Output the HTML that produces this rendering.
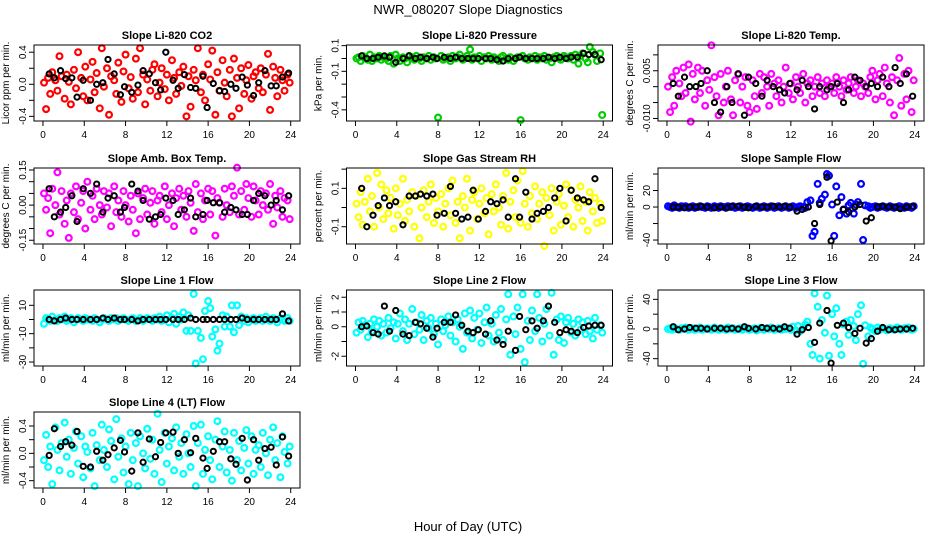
<!DOCTYPE html>
<html><head><meta charset="utf-8"><style>
html,body{margin:0;padding:0;background:#fff;}
svg{display:block;font-family:"Liberation Sans",sans-serif;}
</style></head><body>
<svg id="chart" width="936" height="540" viewBox="0 0 936 540" xmlns="http://www.w3.org/2000/svg">
<rect x="0" y="0" width="936" height="540" fill="#fff"/>
<text x="468" y="14" text-anchor="middle" font-size="13">NWR_080207  Slope Diagnostics</text>
<text x="468" y="531" text-anchor="middle" font-size="13">Hour of Day (UTC)</text>
<g id="panels"></g>
</svg>
<script>
const hours=[0.1,0.3,0.5,0.7,0.9,1.2,1.4,1.6,1.8,2.1,2.3,2.5,2.7,3.0,3.2,3.4,3.7,3.9,4.1,4.3,4.6,4.8,5.0,5.2,5.5,5.7,5.9,6.2,6.4,6.6,6.9,7.1,7.3,7.6,7.8,8.0,8.3,8.5,8.7,9.0,9.2,9.4,9.7,9.9,10.1,10.4,10.6,10.8,11.1,11.3,11.5,11.8,12.0,12.2,12.5,12.7,12.9,13.2,13.4,13.6,13.9,14.1,14.3,14.6,14.8,15.0,15.3,15.5,15.7,16.0,16.2,16.4,16.7,16.9,17.1,17.4,17.6,17.8,18.1,18.3,18.5,18.8,19.0,19.2,19.5,19.7,19.9,20.2,20.4,20.6,20.9,21.1,21.3,21.6,21.8,22.0,22.3,22.5,22.7,23.0,23.2,23.4,23.7,23.9];
const blackHours=[0.6,1.1,1.7,2.2,2.8,3.3,3.9,4.6,5.2,5.8,6.3,6.9,7.5,7.9,8.6,9.2,9.7,10.3,10.9,11.4,11.9,12.6,13.1,13.7,14.3,14.8,15.5,15.9,16.5,17.1,17.6,18.2,18.7,19.3,19.8,20.4,20.9,21.5,22.1,22.6,23.2,23.8];
const xTicks=[0,4,8,12,16,20,24];

const co2Y=[0.02,-0.31,0.08,-0.12,0.15,0.05,-0.08,0.35,0.1,-0.18,0.12,0.03,-0.25,0.18,-0.05,0.4,0.08,-0.15,0.22,-0.2,0.06,0.28,-0.1,0.14,-0.3,0.45,-0.03,0.2,-0.38,0.1,0.05,-0.12,0.27,-0.22,0.16,0.37,-0.05,0.09,-0.18,0.32,-0.1,0.45,0.12,-0.25,0.06,-0.08,0.18,0.25,-0.15,0.02,0.2,-0.06,0.12,-0.2,0.3,0.08,-0.12,0.15,-0.02,0.22,-0.4,0.1,-0.28,0.18,0.05,0.45,-0.1,0.12,-0.2,0.25,0.06,0.42,-0.38,0.15,-0.08,0.3,0.02,-0.15,0.18,-0.4,0.32,0.08,-0.3,0.2,-0.12,0.05,0.24,-0.18,0.1,0.15,-0.05,0.2,-0.1,0.12,0.38,-0.32,0.22,0.08,-0.15,0.18,0.05,-0.08,0.12,0.02];
const co2Black=[0.13,0.08,0.17,0.07,0.08,-0.16,0.05,-0.2,0.0,0.02,0.31,0.13,-0.13,-0.03,-0.1,-0.01,0.17,0.13,0.02,-0.07,0.4,0.05,-0.05,0.12,-0.04,-0.05,0.1,-0.29,0.01,-0.08,-0.09,0.0,-0.05,0.09,-0.01,-0.14,0.02,0.17,-0.02,-0.02,0.09,0.14];
const presY=[0.0,0.01,-0.02,0.02,0.0,-0.01,0.03,-0.02,0.01,0.0,0.02,-0.01,0.01,0.0,-0.02,0.02,-0.04,0.03,0.0,-0.02,0.01,0.0,-0.03,0.02,0.01,-0.01,0.02,0.0,-0.02,0.01,0.0,0.02,-0.01,0.01,0.0,-0.46,0.02,-0.01,0.0,0.01,-0.02,0.02,0.0,0.01,0.03,-0.01,0.0,0.02,0.07,-0.01,0.01,0.0,0.02,-0.02,0.01,0.0,0.02,-0.01,0.01,0.0,-0.02,0.01,0.02,0.0,-0.01,0.01,-0.02,0.0,0.01,-0.48,0.02,0.0,-0.01,0.01,0.0,0.02,-0.01,0.01,0.0,0.02,-0.01,0.0,-0.03,0.01,0.02,0.0,-0.01,0.02,0.01,0.0,0.02,-0.01,0.03,-0.04,0.02,0.04,0.0,-0.03,0.09,0.05,0.03,-0.02,0.04,-0.44];
const presBlack=[0.02,0.0,0.0,0.01,0.02,0.01,-0.03,0.0,0.02,0.0,0.01,0.0,0.01,0.0,0.01,0.0,0.01,0.0,0.0,0.0,0.0,0.0,0.0,-0.01,-0.02,0.0,0.0,0.01,0.0,0.0,0.0,0.0,0.01,0.0,0.01,0.0,0.01,0.01,0.04,0.03,0.03,-0.01];
const tempY=[0.0,-0.008,0.003,-0.006,0.005,0.001,-0.003,0.006,-0.002,0.007,-0.011,0.004,-0.004,0.006,-0.002,0.005,-0.006,0.002,-0.001,0.013,0.003,-0.003,-0.009,0.004,-0.005,0.0,0.005,-0.004,-0.009,0.002,0.004,-0.005,0.0,0.003,-0.006,-0.008,0.002,-0.003,-0.007,0.004,-0.002,0.003,0.0,-0.006,0.004,0.001,-0.003,0.002,-0.005,0.0,0.006,-0.002,0.001,-0.004,0.003,0.0,-0.002,0.004,-0.005,0.001,0.002,-0.003,0.0,0.003,-0.002,0.001,-0.003,0.002,0.0,0.001,-0.002,0.003,0.0,-0.003,0.002,-0.001,0.001,0.003,-0.002,0.0,0.002,-0.003,0.001,0.0,-0.002,0.003,0.005,-0.004,0.002,0.004,-0.003,0.006,0.001,-0.005,0.003,-0.009,0.002,0.009,-0.006,0.004,-0.004,0.005,-0.008,0.002];
const tempBlack=[0.001,-0.003,0.003,0.0,0.0,0.001,0.005,-0.005,-0.008,0.0,-0.005,0.004,-0.009,0.003,0.001,-0.003,0.002,0.0,-0.001,-0.002,0.001,-0.001,0.002,0.0,-0.007,0.0,-0.001,0.0,0.001,-0.005,-0.001,0.003,0.002,0.0,0.001,0.0,0.003,0.0,0.006,0.001,0.004,-0.003];
const ambY=[0.05,-0.02,0.03,-0.12,0.07,0.0,0.14,-0.04,0.06,-0.08,0.02,-0.14,0.05,-0.03,0.08,-0.06,0.01,0.06,-0.1,0.1,-0.02,0.04,-0.06,0.07,0.0,-0.04,0.06,-0.01,0.05,-0.09,0.08,-0.03,0.02,-0.05,0.06,0.0,-0.07,0.04,-0.02,-0.12,0.05,-0.06,0.03,0.07,-0.04,0.01,0.06,-0.08,0.02,0.04,-0.03,0.08,-0.06,0.0,0.05,-0.09,0.03,0.07,-0.02,0.04,-0.05,0.06,0.01,-0.11,0.09,-0.03,0.05,-0.06,0.02,0.07,-0.04,0.06,-0.13,0.03,0.01,-0.05,0.07,0.0,-0.03,0.08,0.04,0.16,-0.04,0.06,-0.02,0.09,0.03,-0.05,0.08,0.02,-0.04,0.06,0.0,0.05,-0.02,0.09,-0.08,0.04,-0.01,0.06,-0.05,0.03,0.02,-0.06];
const ambBlack=[0.07,-0.05,-0.03,-0.01,0.04,-0.07,0.07,0.05,0.09,-0.03,0.03,0.04,-0.03,-0.01,0.09,0.06,0.02,-0.06,-0.05,-0.04,0.03,0.02,-0.04,-0.02,0.03,-0.05,-0.04,0.02,0.01,0.01,-0.03,-0.01,-0.02,-0.04,-0.04,0.02,0.05,0.04,0.0,0.02,-0.02,0.04];
const rhY=[0.02,-0.05,0.08,-0.09,0.03,0.15,-0.02,0.06,-0.1,0.18,0.0,0.12,-0.06,0.09,-0.03,0.05,-0.11,0.1,-0.04,0.02,0.15,-0.07,0.04,-0.02,0.08,-0.1,0.06,-0.16,0.0,0.09,-0.05,0.03,0.12,-0.08,0.05,-0.02,0.07,-0.1,0.02,0.1,-0.04,0.14,-0.08,0.03,-0.16,0.06,0.0,0.15,-0.12,0.04,0.08,-0.06,0.02,0.1,-0.03,0.05,-0.14,0.07,-0.02,0.12,0.0,-0.09,0.06,0.18,-0.11,0.03,0.09,-0.05,0.14,-0.08,0.19,0.02,-0.1,0.06,-0.03,0.11,-0.06,0.02,0.08,-0.2,0.05,-0.04,0.1,-0.12,0.03,0.07,-0.09,0.01,0.12,-0.05,0.09,-0.1,0.04,0.0,0.11,-0.07,0.03,-0.12,0.08,-0.02,0.05,-0.08,0.02,-0.07];
const rhBlack=[0.1,-0.1,-0.04,0.01,0.05,0.01,0.03,-0.09,0.06,0.06,0.07,0.06,0.07,-0.04,-0.03,0.11,-0.03,-0.06,-0.05,0.09,-0.06,-0.02,0.03,0.02,0.04,-0.05,0.15,-0.05,0.08,-0.06,-0.03,-0.02,0.0,0.05,0.1,-0.07,0.09,0.05,0.04,0.03,0.15,0.0];
const sampleY=[1,0,-1,2,0,-1,1,0,1,-1,0,1,-1,0,1,0,-1,1,0,-1,1,0,-1,1,0,-1,1,0,1,-1,0,1,-1,0,1,0,-1,0,1,-1,0,1,-1,0,1,-1,0,1,-1,0,1,-1,0,1,-1,0,1,0,-1,6,8,-35,-30,28,5,10,15,40,38,3,-35,25,-10,12,-3,-8,2,5,-8,3,6,28,-40,2,1,-1,0,1,-1,0,1,0,-1,1,0,-1,0,1,0,-1,1,0,-1,1];
const sampleBlack=[0,0,-1,0,0,1,0,-1,0,-1,1,1,0,-1,1,0,0,1,0,1,0,-5,-3,0,-20,3,36,-41,6,-3,-6,0,3,-17,-13,0,1,0,0,-2,0,1];
const line1Y=[-3,1,0,-1,2,0,-1,1,0,2,-1,0,1,-2,0,1,0,-1,1,0,0,-1,1,0,-2,0,1,0,-1,1,0,1,-1,0,1,0,-1,0,1,-1,0,1,-1,0,1,0,-1,1,0,2,-1,0,3,-2,1,4,-3,2,0,5,-8,3,-8,18,-31,-8,-13,-28,6,13,8,-12,-7,-22,-17,3,-5,2,-5,10,-9,10,-4,2,-1,1,-2,0,1,-1,0,1,-1,2,0,-1,1,0,-2,1,0,-1,1,-1];
const line1Black=[0,-1,0,1,0,0,0,0,0,1,0,1,0,0,0,-1,0,0,0,0,0,0,0,0,1,0,0,0,0,0,0,0,0,1,0,0,0,0,0,0,4,-1];
const line2Y=[-0.4,0.3,-0.2,0.4,0.1,-0.7,0.2,-0.3,0.5,0.0,0.4,-0.6,0.2,-0.4,0.6,-0.1,0.3,-0.8,0.2,0.9,-0.3,0.5,-0.9,0.2,1.2,-0.5,0.3,-0.2,0.8,-0.9,0.4,-0.1,0.6,-0.5,0.2,-1.2,0.5,-0.3,0.1,0.7,-0.6,0.3,-1.0,0.5,0.0,-1.5,0.9,-0.4,1.1,-0.8,0.6,-0.2,0.9,-1.1,0.3,1.3,-0.6,0.2,-1.0,0.8,-0.4,1.2,-0.9,0.5,2.2,-1.9,0.7,-0.5,1.3,-1.5,2.2,-2.4,0.4,-0.9,1.1,-0.3,2.2,0.6,-1.0,0.2,1.2,-0.6,2.3,-1.9,0.5,-0.9,0.7,-1.1,0.3,0.6,-0.4,0.2,-0.6,0.5,-0.2,0.3,-0.5,0.4,-0.3,-0.8,0.6,-0.2,0.1,-0.4];
const line2Black=[0,0.05,-0.4,-0.5,1.4,-0.3,1.1,-0.5,-0.6,0.3,0.2,-0.1,-0.7,-0.1,0.3,0.3,0.8,0.1,-0.3,-0.4,-0.2,-0.5,0.4,-0.9,-1.2,-0.3,-1.6,0.7,-0.2,0.4,-0.1,0.4,1.4,0.3,-0.4,-0.2,-0.3,-0.4,-0.05,0.05,0.1,0.1];
const line3Y=[0,1,-1,2,0,-1,1,0,2,-1,0,1,-1,0,2,-1,0,1,0,-1,2,0,-1,1,0,-1,2,0,1,-1,0,1,-1,2,0,-1,0,1,-2,1,0,-1,1,0,2,-1,0,1,-1,2,0,1,-1,3,-2,4,-3,2,6,10,-20,-35,48,30,-40,12,-5,45,-36,20,-10,28,-20,-35,6,10,-8,12,4,-15,20,32,-47,5,-10,2,0,-3,2,-1,1,0,-2,1,0,-1,2,0,-1,1,0,2,-1,0];
const line3Black=[3,-1,0,2,1,1,0,1,1,0,1,0,3,1,0,2,1,1,0,3,1,-7,-1,2,-18,8,25,-46,5,8,2,-6,1,-19,-13,-3,2,-1,-1,0,0,1];
const line4Y=[-0.1,0.27,-0.2,0.1,-0.45,0.38,0.05,-0.25,0.15,0.45,-0.05,0.2,-0.3,0.08,0.32,-0.15,0.25,-0.35,0.1,0.02,-0.22,0.3,-0.48,0.12,-0.1,0.42,0.05,-0.2,0.35,0.18,-0.38,0.5,-0.05,0.22,-0.28,0.1,-0.45,0.3,-0.1,0.15,-0.48,0.25,0.0,-0.22,0.36,-0.08,0.2,-0.3,0.58,0.05,-0.42,0.3,-0.15,0.1,0.22,-0.25,0.38,-0.05,0.15,-0.3,0.28,0.0,-0.2,0.4,-0.48,0.15,0.42,-0.3,0.05,0.25,-0.1,-0.38,0.2,0.47,-0.2,0.1,0.32,-0.28,0.05,-0.4,0.3,-0.1,0.18,-0.25,0.08,0.34,-0.15,0.25,-0.3,0.05,0.12,-0.2,0.3,0.0,-0.32,0.2,0.38,-0.1,0.15,-0.35,0.25,0.02,-0.15,0.1];
const line4Black=[-0.03,0.36,0.1,0.17,0.12,0.32,-0.19,-0.2,0.03,-0.1,-0.02,0.08,0.19,0.02,-0.26,0.3,-0.13,0.21,-0.05,0.16,0.3,0.31,0.0,0.2,0.01,0.22,-0.07,-0.22,0.03,0.17,0.17,-0.08,-0.16,0.22,-0.39,0.2,-0.1,0.07,0.09,-0.17,0.24,-0.04];

const panels=[
 {key:'co2',title:'Slope Li-820 CO2',ylab:'Licor ppm per min.',color:'#ff0000',y:co2Y,by:co2Black,ymin:-0.458,ymax:0.49,ticks:[-0.4,-0.2,0,0.2,0.4],labels:['-0.4','','0.0','','0.4'],col:0,row:0},
 {key:'pressure',title:'Slope Li-820 Pressure',ylab:'kPa per min.',color:'#00cd00',y:presY,by:presBlack,ymin:-0.487,ymax:0.105,ticks:[-0.4,-0.3,-0.2,-0.1,0,0.1],labels:['-0.4','','','-0.1','','0.1'],col:1,row:0},
 {key:'temp',title:'Slope Li-820 Temp.',ylab:'degrees C per min.',color:'#ff00ff',y:tempY,by:tempBlack,ymin:-0.0108,ymax:0.0131,ticks:[-0.010,-0.005,0,0.005,0.010],labels:['-0.010','','','0.005',''],col:2,row:0},
 {key:'amb-box-temp',title:'Slope Amb. Box Temp.',ylab:'degrees C per min.',color:'#ff00ff',y:ambY,by:ambBlack,ymin:-0.166,ymax:0.1585,ticks:[-0.15,-0.1,-0.05,0,0.05,0.1,0.15],labels:['-0.15','','','0.00','','','0.15'],col:0,row:1},
 {key:'gas-rh',title:'Slope Gas Stream RH',ylab:'percent per min.',color:'#ffff00',y:rhY,by:rhBlack,ymin:-0.19,ymax:0.206,ticks:[-0.1,0,0.1,0.2],labels:['-0.1','','0.1',''],col:1,row:1},
 {key:'sample-flow',title:'Slope Sample Flow',ylab:'ml/min per min.',color:'#0000ff',y:sampleY,by:sampleBlack,ymin:-44.8,ymax:47.3,ticks:[-40,-20,0,20,40],labels:['-40','','0','20',''],col:2,row:1},
 {key:'line1-flow',title:'Slope Line 1 Flow',ylab:'ml/min per min.',color:'#00ffff',y:line1Y,by:line1Black,ymin:-32.8,ymax:20.8,ticks:[-30,-20,-10,0,10],labels:['-30','','-10','','10'],col:0,row:2},
 {key:'line2-flow',title:'Slope Line 2 Flow',ylab:'ml/min per min.',color:'#00ffff',y:line2Y,by:line2Black,ymin:-2.66,ymax:2.49,ticks:[-2,-1,0,1,2],labels:['-2','','0','1','2'],col:1,row:2},
 {key:'line3-flow',title:'Slope Line 3 Flow',ylab:'ml/min per min.',color:'#00ffff',y:line3Y,by:line3Black,ymin:-49.9,ymax:52.6,ticks:[-40,-20,0,20,40],labels:['-40','','0','','40'],col:2,row:2},
 {key:'line4-flow',title:'Slope Line 4 (LT) Flow',ylab:'ml/min per min.',color:'#00ffff',y:line4Y,by:line4Black,ymin:-0.507,ymax:0.605,ticks:[-0.4,-0.2,0,0.2,0.4],labels:['-0.4','','0.0','','0.4'],col:0,row:3}
];
const colLeft=[34,346.5,658], rowTop=[45,168,290,412], PW=266, PH=76, XMIN=-0.87, XMAX=24.9;
const NS='http://www.w3.org/2000/svg';
const root=document.getElementById('panels');
function mk(tag,attrs,parent){const e=document.createElementNS(NS,tag);for(const k in attrs)e.setAttribute(k,attrs[k]);parent.appendChild(e);return e;}
panels.forEach(p=>{
  const L=colLeft[p.col],T=rowTop[p.row];
  const xs=h=>L+(h-XMIN)/(XMAX-XMIN)*PW;
  const ys=v=>T+(p.ymax-v)/(p.ymax-p.ymin)*PH;
  const g=mk('g',{},root);
  
  
  const t=mk('text',{x:L+PW/2,y:T-6,'text-anchor':'middle','font-size':'11','font-weight':'bold'},g);
  t.textContent=p.title;
  
  
  const yl=mk('text',{transform:`translate(${L-25},${T+PH/2}) rotate(-90)`,'text-anchor':'middle','font-size':'10'},g);
  yl.textContent=p.ylab;
  
  
  const xa=mk('g',{},g);
  
  
  mk('line',{x1:xs(xTicks[0]),x2:xs(xTicks[xTicks.length-1]),y1:T+PH,y2:T+PH,stroke:'#000'},xa);
  xTicks.forEach(v=>{
    mk('line',{x1:xs(v),x2:xs(v),y1:T+PH,y2:T+PH+5,stroke:'#000'},xa);
    const tl=mk('text',{x:xs(v),y:T+PH+17,'text-anchor':'middle','font-size':'10'},xa);
    tl.textContent=v;
    
    
  });
  const ya=mk('g',{},g);
  
  
  p.ticks.forEach((v,i)=>{
    mk('line',{x1:L-5,x2:L,y1:ys(v),y2:ys(v),stroke:'#000'},ya);
    if(p.labels[i]){
      const tl=mk('text',{transform:`translate(${L-8},${ys(v)}) rotate(-90)`,'text-anchor':'middle','font-size':'10'},ya);
      tl.textContent=p.labels[i];
      
      
    }
  });
  const pts=mk('g',{fill:'none',stroke:p.color,'stroke-width':'2.2'},g);
  
  
  const n=Math.min(hours.length,p.y.length);
  for(let i=0;i<n;i++){
    const c=mk('circle',{cx:xs(hours[i]),cy:ys(p.y[i]),r:2.9},pts);
    
    
  }
  const bp=mk('g',{fill:'none',stroke:'#000','stroke-width':'2'},g);
  
  
  const nb=Math.min(blackHours.length,p.by.length);
  for(let i=0;i<nb;i++){
    const c=mk('circle',{cx:xs(blackHours[i]),cy:ys(p.by[i]),r:2.6},bp);
    
    
  }
  const box=mk('rect',{x:L,y:T,width:PW,height:PH,fill:'none',stroke:'#000'},g);
  
  
});
</script>
</body></html>
